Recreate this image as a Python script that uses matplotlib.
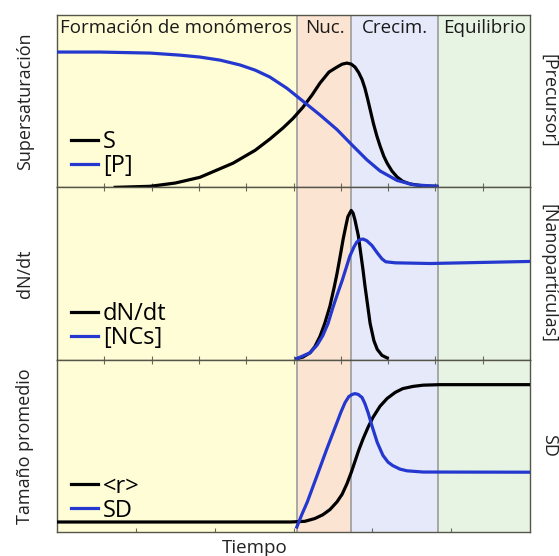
import numpy as np
import matplotlib
matplotlib.use("Agg")
import matplotlib.pyplot as plt

plt.rcParams['font.family'] = ['Open Sans', 'DejaVu Sans']

# etapas del proceso (limites en unidades de tiempo arbitrarias, 0-10)
stage_names = ["Formación de monómeros", "Nuc.", "Crecim.", "Equilibrio"]
stage_edges = [0.0, 5.07, 6.22, 8.05, 10.0]
stage_colors = ["#fffdd6", "#fce4d2", "#e5e9fa", "#e7f4e4"]

# panel superior: supersaturacion S y precursor [P]
s_t = [1.23, 1.97, 2.50, 3.02, 3.72, 4.19, 4.50, 4.78, 4.99, 5.20, 5.39, 5.56,
       5.75, 5.92, 6.03, 6.13, 6.22, 6.30, 6.38, 6.45, 6.51, 6.57, 6.63, 6.69,
       6.76, 6.83, 6.91, 6.98, 7.08, 7.19, 7.31, 7.46, 7.74, 8.03]
s_val = [0.0, 0.006, 0.025, 0.058, 0.14, 0.215, 0.28, 0.345, 0.40, 0.465, 0.535, 0.605,
         0.669, 0.698, 0.715, 0.721, 0.715, 0.698, 0.665, 0.625, 0.575, 0.51, 0.44, 0.37,
         0.30, 0.24, 0.18, 0.14, 0.095, 0.06, 0.035, 0.02, 0.008, 0.006]
p_t = [0.0, 0.91, 1.97, 2.60, 3.02, 3.45, 3.87, 4.19, 4.50, 4.86, 5.20, 5.56,
       5.92, 6.24, 6.55, 6.83, 7.19, 7.53, 8.03]
p_val = [0.785, 0.785, 0.779, 0.767, 0.756, 0.738, 0.71, 0.68, 0.64, 0.575, 0.50, 0.42,
         0.335, 0.245, 0.16, 0.095, 0.04, 0.015, 0.006]

# panel central: velocidad de nucleacion y numero de nanocristales
dn_t = [5.07, 5.20, 5.35, 5.45, 5.56, 5.66, 5.77, 5.86, 5.92, 5.98, 6.05, 6.11,
        6.15, 6.22, 6.26, 6.30, 6.37, 6.41, 6.47, 6.51, 6.58, 6.62, 6.70, 6.77,
        6.87, 6.98]
dn_val = [0.006, 0.015, 0.04, 0.075, 0.135, 0.21, 0.31, 0.42, 0.50, 0.59, 0.70, 0.78,
          0.83, 0.866, 0.85, 0.81, 0.72, 0.64, 0.52, 0.43, 0.29, 0.21, 0.11, 0.06,
          0.025, 0.01]
nc_t = [5.07, 5.35, 5.50, 5.62, 5.73, 5.83, 5.94, 6.03, 6.11, 6.19, 6.28, 6.34,
        6.41, 6.47, 6.55, 6.66, 6.77, 6.87, 6.95, 7.15, 7.89, 8.94, 10.0]
nc_val = [0.006, 0.04, 0.085, 0.14, 0.21, 0.30, 0.39, 0.46, 0.53, 0.60, 0.655, 0.683,
          0.697, 0.70, 0.69, 0.662, 0.62, 0.585, 0.568, 0.562, 0.558, 0.564, 0.57]

# panel inferior: tamano promedio <r> y desviacion estandar SD
r_t = [0.0, 4.93, 5.24, 5.45, 5.62, 5.77, 5.92, 6.03, 6.13, 6.22, 6.30, 6.38,
       6.47, 6.58, 6.68, 6.83, 6.98, 7.15, 7.31, 7.53, 7.74, 8.10, 10.0]
r_val = [0.058, 0.058, 0.062, 0.078, 0.10, 0.13, 0.175, 0.22, 0.28, 0.345, 0.41, 0.475,
         0.54, 0.61, 0.665, 0.73, 0.775, 0.81, 0.832, 0.845, 0.852, 0.855, 0.855]
sd_t = [5.07, 5.18, 5.29, 5.50, 5.71, 5.92, 6.00, 6.09, 6.17, 6.24, 6.30, 6.37,
        6.45, 6.51, 6.58, 6.66, 6.77, 6.89, 7.00, 7.10, 7.25, 7.40, 7.74, 10.0]
sd_val = [0.029, 0.104, 0.173, 0.329, 0.486, 0.636, 0.694, 0.751, 0.786, 0.798, 0.803, 0.798,
          0.78, 0.745, 0.69, 0.615, 0.52, 0.445, 0.405, 0.385, 0.365, 0.355, 0.348, 0.347]

panels = [
    (s_t, s_val, "S", p_t, p_val, "[P]", "Supersaturación", "[Precursor]"),
    (dn_t, dn_val, "dN/dt", nc_t, nc_val, "[NCs]", "dN/dt", "[Nanopartículas]"),
    (r_t, r_val, "<r>", sd_t, sd_val, "SD", "Tamaño promedio", "SD"),
]

BLUE = "#2438d0"
TICK_C = "#6a6a5a"
W, H = 559, 556
fig = plt.figure(figsize=(W / 100, H / 100), dpi=100)

left, right = 57 / W, 530 / W
top_px, bot_px = 15, 532
ph = (bot_px - top_px) / 3

axes = []
for i, (kt, kv, klab, bt, bv, blab, ylab_l, ylab_r) in enumerate(panels):
    y0 = 1 - (top_px + ph * (i + 1)) / H
    ax = fig.add_axes([left, y0, right - left, ph / H])
    axes.append(ax)
    for j in range(4):
        ax.axvspan(stage_edges[j], stage_edges[j + 1], color=stage_colors[j], lw=0, zorder=0)
    for e in stage_edges[1:-1]:
        ax.axvline(e, color="#9c9c9c", lw=1.2, zorder=1)
    ax.plot(kt, kv, color="black", lw=2.3, label=klab, zorder=3, solid_joinstyle="round")
    ax.plot(bt, bv, color=BLUE, lw=2.3, label=blab, zorder=3, solid_joinstyle="round")
    ax.set_xlim(0, 10)
    ax.set_ylim(0, 1)
    ax.set_yticks([])
    for sp in ax.spines.values():
        sp.set_color("#55554a")
        sp.set_linewidth(1.0)
    ax.legend(loc="lower left", bbox_to_anchor=(0.03, 0.055), frameon=False,
              handlelength=1.15, handletextpad=0.2, labelspacing=0.0,
              borderpad=0.0, borderaxespad=0.0, fontsize=17)
    ax.text(-0.068, 0.5, ylab_l, transform=ax.transAxes, rotation=90,
            ha="center", va="center", fontsize=13, color="#222222")
    ax.text(1.040, 0.5, ylab_r, transform=ax.transAxes, rotation=270,
            ha="center", va="center", fontsize=13, color="#222222")

    if i < 2:
        ax.set_xticks(np.arange(1, 10))
        ax.tick_params(axis="x", direction="in", length=3, width=0.8, color=TICK_C,
                       labelbottom=False, top=(i == 1), bottom=True)
    else:
        ax.set_xticks(np.arange(1, 6) * 10 / 6)
        ax.tick_params(axis="x", direction="in", length=3, width=0.8, color=TICK_C,
                       labelbottom=False)
        sec = ax.secondary_xaxis("top")
        sec.set_xticks(np.arange(1, 10))
        sec.tick_params(direction="in", length=3, width=0.8, color=TICK_C, labeltop=False)
        sec.spines["top"].set_visible(False)

# titulos de las etapas
ax0 = axes[0]
stage_x = [0.06, 5.67, 7.15, 9.05]
for j, name in enumerate(stage_names):
    ha = "left" if j == 0 else "center"
    ax0.text(stage_x[j], 0.924, name, ha=ha, va="center", fontsize=13.5, color="#1a1a1a")

fig.text(255 / W, 1 - 548 / H, "Tiempo", ha="center", va="center", fontsize=13.5, color="#222222")

fig.savefig("out.png", dpi=100)
